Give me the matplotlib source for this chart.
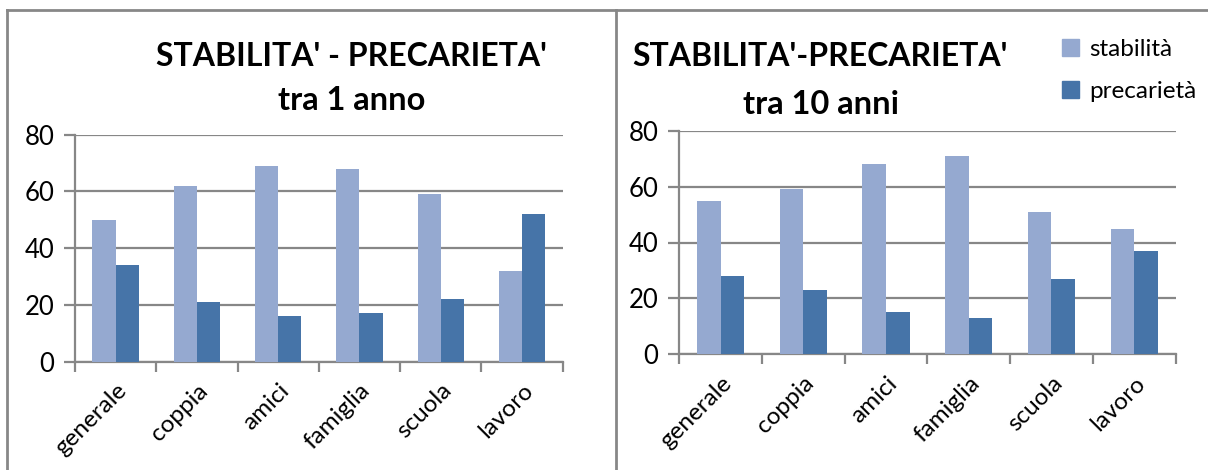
import matplotlib
matplotlib.use("Agg")
import matplotlib.pyplot as plt
import numpy as np
from matplotlib.lines import Line2D
from matplotlib.patches import Patch

categories = ["generale", "coppia", "amici", "famiglia", "scuola", "lavoro"]
stab_1 = [50, 62, 69, 68, 59, 32]
prec_1 = [34, 21, 16, 17, 22, 52]
stab_10 = [55, 59, 68, 71, 51, 45]
prec_10 = [28, 23, 15, 13, 27, 37]
series_names = ["stabilità", "precarietà"]
title_1 = ["STABILITA' - PRECARIETA'", "tra 1 anno"]
title_10 = ["STABILITA'-PRECARIETA'", "tra 10 anni"]
yticks = [0, 20, 40, 60, 80]

C_STAB = "#95A9D0"
C_PREC = "#4674A8"
GRID = "#878787"
FONT = "Lato"

plt.rcParams["font.family"] = [FONT, "DejaVu Sans"]

W, H = 1208, 470
fig = plt.figure(figsize=(W / 100, H / 100), dpi=100)

def fx(px):
    return px / W

def fy(py):
    return 1 - py / H

# panel borders
for (x0, y0, x1, y1) in [(7, 10, 1208, 10), (7, 10, 7, 470), (616, 10, 616, 470)]:
    fig.add_artist(Line2D([fx(x0), fx(x1)], [fy(y0), fy(y1)], color=GRID, lw=2,
                          transform=fig.transFigure))

def draw(ax, stab, prec):
    x = np.arange(len(categories))
    bw = 0.285
    ax.bar(x + 0.5 - bw, stab, width=bw, color=C_STAB, align="edge", zorder=3)
    ax.bar(x + 0.5, prec, width=bw, color=C_PREC, align="edge", zorder=3)
    ax.set_xlim(0, len(categories))
    ax.set_ylim(0, 80)
    ax.set_yticks(yticks)
    ax.set_yticklabels([str(v) for v in yticks], fontsize=18.5)
    ax.yaxis.grid(True, color=GRID, lw=1.6, zorder=0)
    ax.set_axisbelow(True)
    for s in ["top", "right"]:
        ax.spines[s].set_visible(False)
    for s in ["left", "bottom"]:
        ax.spines[s].set_color(GRID)
        ax.spines[s].set_linewidth(1.6)
    ax.tick_params(axis="y", length=8, width=1.6, color=GRID, pad=7)
    # category boundary ticks
    ax.set_xticks(np.arange(len(categories) + 1))
    ax.set_xticklabels([])
    ax.tick_params(axis="x", which="major", length=7, width=1.6, color=GRID)
    ax.set_xticks(x + 0.5, minor=True)
    ax.set_xticklabels(categories, minor=True, rotation=45, ha="right",
                       rotation_mode="anchor", fontsize=17.5)
    ax.tick_params(axis="x", which="minor", length=0, pad=13)

ax1 = fig.add_axes([fx(75), fy(361.7), fx(562.7 - 75), (361.7 - 134.7) / H])
draw(ax1, stab_1, prec_1)
ax2 = fig.add_axes([fx(679.3), fy(354.3), fx(1175.5 - 679.3), (354.3 - 130.7) / H])
draw(ax2, stab_10, prec_10)

TS = 23
fig.text(fx(351), fy(57), title_1[0], ha="center", va="center", fontsize=TS, fontweight="bold")
fig.text(fx(352), fy(101), title_1[1], ha="center", va="center", fontsize=TS + 0.5, fontweight="bold")
fig.text(fx(820), fy(57), title_10[0], ha="center", va="center", fontsize=TS, fontweight="bold")
fig.text(fx(821), fy(104), title_10[1], ha="center", va="center", fontsize=TS + 0.5, fontweight="bold")

handles = [Patch(color=C_STAB), Patch(color=C_PREC)]
fig.legend(handles, series_names, loc="upper left", bbox_to_anchor=(fx(1050), fy(27)),
           frameon=False, fontsize=17.5, handlelength=0.7, handleheight=0.7,
           handletextpad=0.4, labelspacing=0.85, borderpad=0)

fig.savefig("out.png", dpi=100)
